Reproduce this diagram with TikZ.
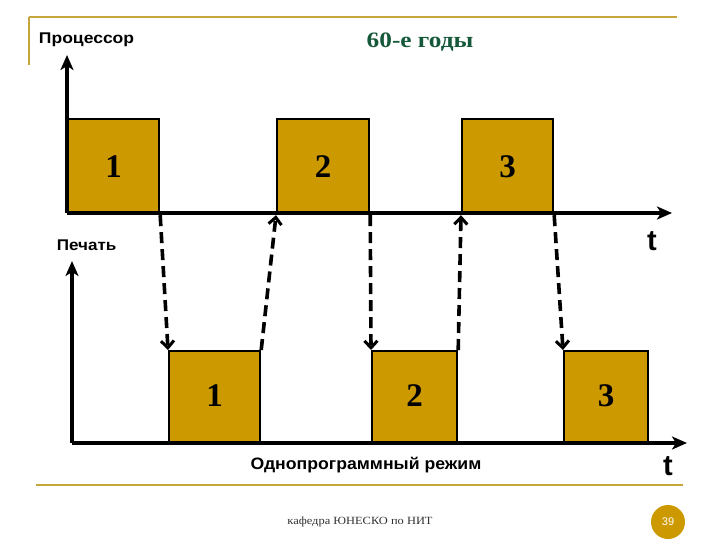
\documentclass[tikz,border=0pt]{standalone}
\usepackage{fontspec}
\setmainfont{Liberation Serif}
\setsansfont{Liberation Sans}
\usetikzlibrary{arrows.meta}
\definecolor{boxgold}{RGB}{204,153,0}
\definecolor{linegold}{RGB}{196,166,60}
\definecolor{titlegreen}{RGB}{22,88,58}
\definecolor{footgray}{RGB}{50,50,50}
\tikzset{
  job/.style={draw=black, line width=2.2pt, fill=boxgold, inner sep=0pt, anchor=north west},
  axis/.style={line width=3.4pt, -{Stealth[length=15pt,width=13pt,inset=4pt]}},
  handoff/.style={line width=3.6pt, dash pattern=on 11pt off 6pt, -{Straight Barb[length=7pt,width=13pt,line width=3pt]}},
  num/.style={font=\fontsize{33}{33}\selectfont\bfseries},
  lbl/.style={font=\sffamily\bfseries\fontsize{15.5}{17}\selectfont, anchor=base west},
  tlbl/.style={font=\sffamily\bfseries\fontsize{29}{29}\selectfont},
}
\begin{document}
\begin{tikzpicture}[x=1pt,y=-1pt]
\useasboundingbox (0,0) rectangle (720,540);
% frame lines
\draw[linegold, line width=2.2pt] (29,17) -- (677,17);
\draw[linegold, line width=2.2pt] (29,17) -- (29,65);
\draw[linegold, line width=2.2pt] (36,485) -- (683,485);
% titles
\node[lbl, xscale=1.13] (proc) at (35,44) {Процессор};
\node[font=\fontsize{22}{24}\selectfont\bfseries, text=titlegreen, xscale=1.15] (title) at (420,42) {60-е годы};
\node[lbl, xscale=1.1] (pech) at (53,251) {Печать};
% processor boxes
\node[job, minimum width=91pt, minimum height=95pt] (p1) at (67,118) {};
\node[job, minimum width=92pt, minimum height=95pt] (p2) at (276,118) {};
\node[job, minimum width=91pt, minimum height=95pt] (p3) at (461,118) {};
\node[num] at (p1.center) {1};
\node[num] at (p2.center) {2};
\node[num] at (p3.center) {3};
% print boxes
\node[job, minimum width=91pt, minimum height=93pt] (q1) at (168,350) {};
\node[job, minimum width=85pt, minimum height=93pt] (q2) at (371,350) {};
\node[job, minimum width=84pt, minimum height=93pt] (q3) at (563,350) {};
\node[num] at ([yshift=2pt]q1.center) {1};
\node[num] at ([yshift=2pt]q2.center) {2};
\node[num] at ([yshift=2pt]q3.center) {3};
% axes
\coordinate (o1) at (67,213);
\coordinate (y1) at (67,55);
\coordinate (x1) at (672,213);
\coordinate (o2) at (72,443);
\coordinate (y2) at (72,261);
\coordinate (x2) at (687,443);
\draw[axis] (o1) -- (y1);
\draw[axis] (o1) -- (x1);
\draw[axis] (o2) -- (y2);
\draw[axis] (o2) -- (x2);
\node[tlbl] (t1) at (652,241) {t};
\node[tlbl] (t2) at (668,466) {t};
% handoff arrows
\draw[handoff] (p1.south east) -- (q1.north west);
\draw[handoff] (q1.north east) -- (p2.south west);
\draw[handoff] (p2.south east) -- (q2.north west);
\draw[handoff] (q2.north east) -- (p3.south west);
\draw[handoff] (p3.south east) -- (q3.north west);
% bottom texts
\node[font=\sffamily\bfseries\fontsize{16.5}{18}\selectfont, xscale=1.07] (mode) at (366,465) {Однопрограммный режим};
\node[font=\fontsize{11}{12}\selectfont, text=footgray, xscale=1.13] (foot) at (360,522) {кафедра ЮНЕСКО по НИТ};
\node[circle, fill=boxgold, minimum size=34pt, inner sep=0pt, text=white, font=\sffamily\fontsize{11}{12}\selectfont] (pg) at (668,522) {39};
\end{tikzpicture}
\end{document}
